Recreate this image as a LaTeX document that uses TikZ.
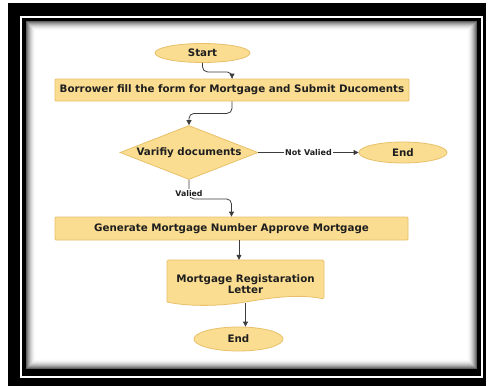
\documentclass[tikz,border=0pt]{standalone}
\usepackage{fontspec}
\setmainfont{DejaVu Sans}
\usetikzlibrary{shapes.geometric,arrows.meta,calc}
\definecolor{boxfill}{RGB}{251,221,146}
\definecolor{boxline}{RGB}{232,192,105}
\definecolor{ink}{RGB}{30,30,30}
\definecolor{wire}{RGB}{60,60,60}
\begin{document}
\begin{tikzpicture}[x=1pt,y=-1pt,
  flowbox/.style={draw=boxline, fill=boxfill, line width=0.8pt, text=ink,
    font=\fontsize{10.3}{10.8}\selectfont\bfseries, inner sep=0pt},
  term/.style={flowbox, ellipse},
  procbox/.style={flowbox, rectangle, rounded corners=1pt},
  decision/.style={flowbox, diamond, aspect=2.5},
  conn/.style={draw=wire, line width=0.8pt, rounded corners=5pt,
    -{Triangle[length=5pt,width=5pt]}},
  lbl/.style={fill=white, text=ink, inner sep=1pt}]
\useasboundingbox (0,0) rectangle (488,386);
% double black frame with a thin white rule between the two borders
\fill[white] (0,0) rectangle (488,386);
\fill[black] (8,3) rectangle (486,386);
\draw[white, line width=1.6pt] (21,17) rectangle (482,377);
% inner shadow of the page area
\foreach \i in {0,...,9}{
  \pgfmathsetmacro\g{62*(1-\i/10)^2}
  \fill[black!\g] (26+\i,21+\i) rectangle (477-\i,369-\i);
}
\fill[white] (36,31) rectangle (467,359);

% nodes
\node[term, minimum width=95pt, minimum height=19pt] (start) at (202.5,53) {Start};
\node[procbox, minimum width=354pt, minimum height=22pt] (fill) at (232,90)
  {Borrower fill the form for Mortgage and Submit Ducoments};
\node[decision, minimum width=138pt, minimum height=54pt] (check) at (189,152.5) {Varifiy documents};
\node[term, minimum width=88pt, minimum height=21pt] (stopA) at (403,152.5) {End};
\node[procbox, minimum width=353pt, minimum height=23pt] (approve) at (231.5,228.5)
  {Generate Mortgage Number Approve Mortgage};
% document shape with a wavy lower edge
\fill[boxfill, draw=boxline, line width=0.8pt, rounded corners=1.5pt]
  (167,302) -- (167,260) -- (324,260) -- (324,299) [sharp corners]
  .. controls (300,294) and (275,297) .. (245.5,302)
  .. controls (215,307) and (185,306) .. (167,302) -- cycle;
\node[minimum width=157pt, minimum height=43pt, inner sep=0pt] (letter) at (245.5,281.5) {};
\node[text=ink, font=\fontsize{10.3}{10.8}\selectfont\bfseries, align=center,
  inner sep=0pt] (lettertext) at (245.5,284) {Mortgage Registaration\\Letter};
\node[term, minimum width=89pt, minimum height=24pt] (stopB) at (238.5,339) {End};

% connectors
\draw[conn] (start.south) -- ++(0,9) -| (fill.north);
\draw[conn] (fill.south) -- ++(0,12) -| (check.north);
\draw[conn] (check.east) -- node[lbl, font=\fontsize{8}{9}\selectfont\bfseries] {Not Valied} (stopA.west);
\draw[conn] (check.south) -- node[lbl, pos=0.7, font=\fontsize{7.8}{9}\selectfont\bfseries] {Valied}
  ++(0,19) -| (approve.north);
\coordinate (letterin) at ($(letter.north)+(-6.5,0)$);
\draw[conn] (approve.south -| letterin) -- (letterin);
\draw[conn] (letter.south) -- (letter.south |- stopB.north);
\end{tikzpicture}
\end{document}
